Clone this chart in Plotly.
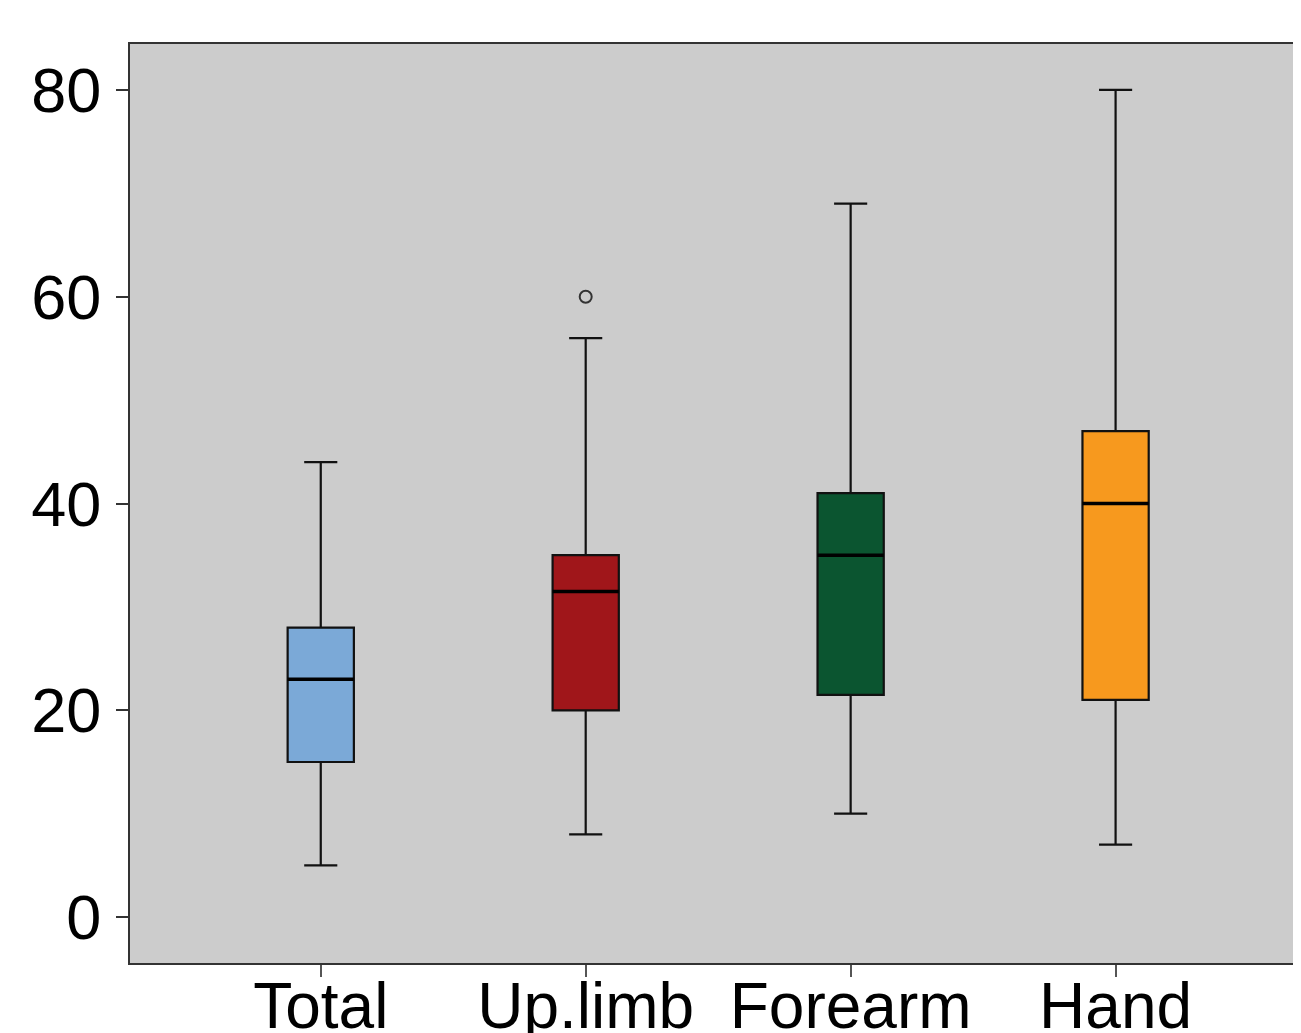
import plotly.graph_objects as go

categories = ["Total", "Up.limb", "Forearm", "Hand"]
lower_whisker = [5, 8, 10, 7]
q1_vals = [15, 20, 21.5, 21]
median_vals = [23, 31.5, 35, 40]
q3_vals = [28, 35, 41, 47]
upper_whisker = [44, 56, 69, 80]
outlier_cat = ["Up.limb"]
outlier_vals = [60]
colors = ["#7BA9D7", "#A0161A", "#0B5530", "#F7991E"]
y_ticks = [0, 20, 40, 60, 80]

BOX_W = 0.25
fig = go.Figure()
for i, cat in enumerate(categories):
    fig.add_trace(go.Box(
        x=[i], q1=[q1_vals[i]], median=[median_vals[i]], q3=[q3_vals[i]],
        lowerfence=[lower_whisker[i]], upperfence=[upper_whisker[i]],
        width=BOX_W, whiskerwidth=0.5, boxpoints=False,
        fillcolor=colors[i], line=dict(color="#111111", width=2.2),
        showlegend=False, hoverinfo="skip"))
    fig.add_trace(go.Scatter(
        x=[i - BOX_W / 2, i + BOX_W / 2], y=[median_vals[i], median_vals[i]],
        mode="lines", line=dict(color="black", width=3.5),
        showlegend=False, hoverinfo="skip"))

fig.add_trace(go.Scatter(
    x=[categories.index(c) for c in outlier_cat], y=outlier_vals,
    mode="markers",
    marker=dict(symbol="circle-open", size=12, color="#333333", line=dict(width=2)),
    showlegend=False, hoverinfo="skip"))

fig.update_layout(
    width=1301, height=1025,
    margin=dict(l=122, r=0, t=36, b=70),
    paper_bgcolor="white", plot_bgcolor="#CCCCCC",
    font=dict(family="Liberation Sans, Arial, sans-serif", size=63, color="black"),
)
fig.update_xaxes(
    range=[-0.72, 3.73], tickmode="array",
    tickvals=list(range(len(categories))), ticktext=categories,
    tickfont=dict(size=64),
    showgrid=False, zeroline=False, automargin=False,
    showline=True, mirror=True, linecolor="#333333", linewidth=2,
    ticks="outside", ticklen=12, tickwidth=2, tickcolor="#555555",
    ticklabelstandoff=-26,
)
fig.update_yaxes(
    range=[-4.44, 84.44], tickvals=y_ticks,
    showgrid=False, zeroline=False, automargin=False,
    showline=True, mirror=False, linecolor="#333333", linewidth=2,
    ticks="outside", ticklen=12, tickwidth=2, tickcolor="#333333",
    ticklabelstandoff=2,
)

fig.write_html("out.html")
